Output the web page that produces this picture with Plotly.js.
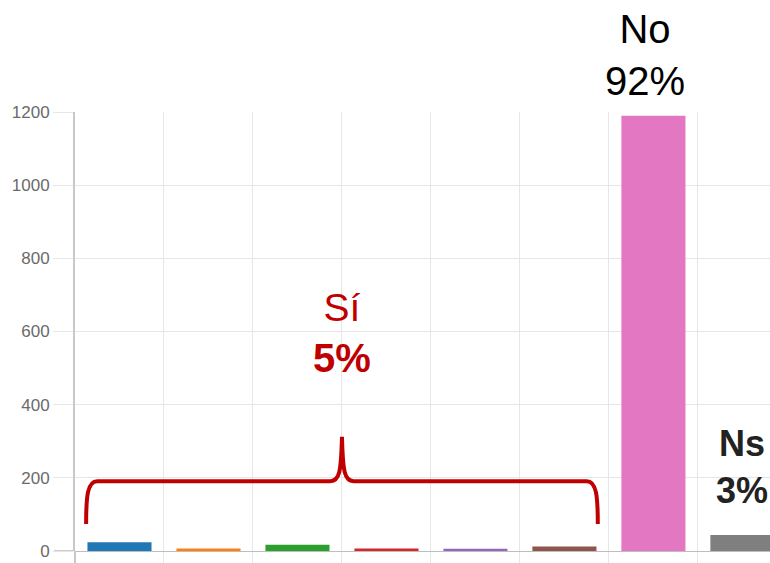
<!DOCTYPE html>
<html>
<head>
<meta charset="utf-8">
<script src="https://cdn.plot.ly/plotly-3.0.1.min.js"></script>
<style>
  body { margin: 0; background: #fff; }
  #chart { width: 770px; height: 563px; }
</style>
</head>
<body>
<div id="chart"></div>
<script>
const categories = ['Sí 1', 'Sí 2', 'Sí 3', 'Sí 4', 'Sí 5', 'Sí 6', 'No', 'Ns'];
const counts = [24, 7, 17, 7, 6, 12, 1190, 44];
const barColors = ['#1f77b4', '#ff7f0e', '#2ca02c', '#d62728', '#9467bd', '#8c564b', '#e377c2', '#7f7f7f'];
const yTicks = [0, 200, 400, 600, 800, 1000, 1200];

const data = [{
    type: 'bar',
    x: categories,
    y: counts,
    width: 0.72,
    marker: {color: barColors},
    hoverinfo: 'x+y'
}];

const gridColor = '#e6e6e6';

const layout = {
    width: 770,
    height: 563,
    margin: {l: 75, r: 0, t: 112, b: 12},
    paper_bgcolor: '#fff',
    plot_bgcolor: '#fff',
    showlegend: false,
    font: {family: 'Liberation Sans, Arial, sans-serif', color: '#666'},
    xaxis: {
        type: 'category',
        range: [-0.5, 7.31],
        tickson: 'boundaries',
        showticklabels: false,
        showgrid: true,
        gridcolor: gridColor,
        ticks: 'outside',
        ticklen: 12,
        tickcolor: gridColor,
        zeroline: false,
        showline: false,
        fixedrange: true
    },
    yaxis: {
        range: [0, 1200],
        tickvals: yTicks,
        ticks: 'outside',
        ticklen: 20,
        tickcolor: gridColor,
        tickfont: {size: 17, color: '#6a6a6a'},
        showgrid: true,
        gridcolor: gridColor,
        zeroline: true,
        zerolinecolor: '#bdbdbd',
        showline: true,
        linecolor: '#c8c8c8',
        linewidth: 2,
        fixedrange: true
    },
    shapes: [
        // zero line continued under the tick labels
        {type: 'line', xref: 'paper', yref: 'y', x0: -0.03, x1: 0, y0: 0, y1: 0,
         line: {color: '#bdbdbd', width: 1.5}},
        // y axis line continued below zero
        {type: 'line', xref: 'paper', yref: 'paper', x0: 0, x1: 0, y0: 0, y1: -0.03,
         line: {color: '#c8c8c8', width: 2}},
        // curly brace over the "Sí" bars
        {type: 'path', xref: 'x', yref: 'y',
         path: 'M -0.375,74 C -0.375,150 -0.36,191 -0.25,191 L 2.37,191 ' +
               'C 2.47,191 2.49,215 2.5,312 C 2.51,215 2.53,191 2.63,191 ' +
               'L 5.25,191 C 5.36,191 5.375,150 5.375,74',
         line: {color: '#c00000', width: 4}}
    ],
    annotations: [
        {xref: 'x', yref: 'paper', x: 5.9, y: 1.13, text: 'No<br>92%', showarrow: false,
         font: {size: 40, color: '#000'}, yanchor: 'middle'},
        {xref: 'x', yref: 'y', x: 2.5, y: 596, text: 'Sí<br><b style="font-size:40px">5%</b>', showarrow: false,
         font: {size: 39, color: '#c00000'}, yanchor: 'middle'},
        {xref: 'x', yref: 'y', x: 7, y: 230, text: '<b>Ns<br>3%</b>', showarrow: false,
         font: {size: 36, color: '#222'}, yanchor: 'middle'}
    ]
};

Plotly.newPlot('chart', data, layout, {displayModeBar: false, staticPlot: true});
</script>
</body>
</html>
